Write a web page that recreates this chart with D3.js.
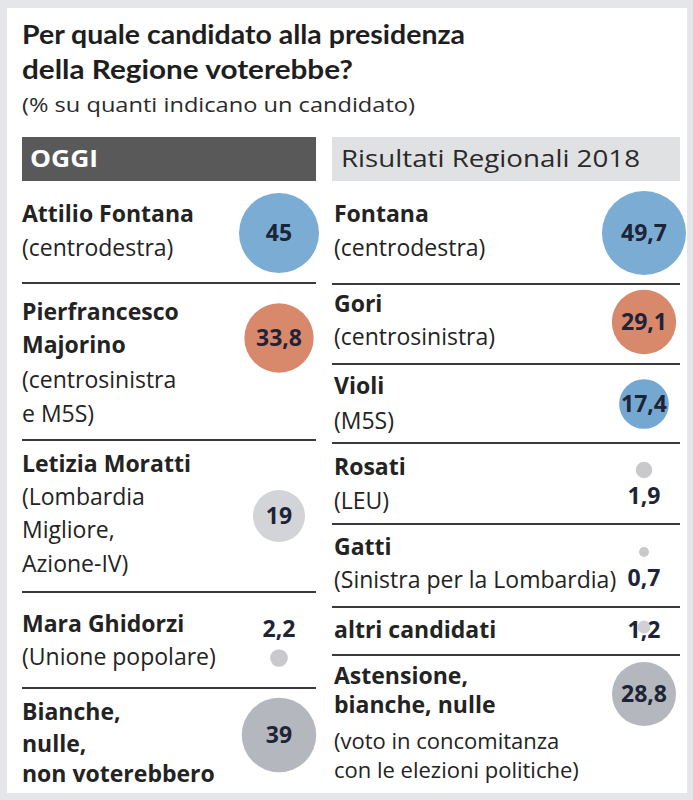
<!DOCTYPE html>
<html><head><meta charset="utf-8">
<script src="https://cdn.jsdelivr.net/npm/d3@7"></script>
<style>html,body{margin:0;padding:0;background:#fff}svg{display:block}</style>
</head><body><div id="chart"></div>
<script>
// ---- DATA ----
const titleLines = ["Per quale candidato alla presidenza", "della Regione voterebbe?"];
const subtitle = "(% su quanti indicano un candidato)";
const leftHeader = "OGGI";
const rightHeader = "Risultati Regionali 2018";

const leftNames = [["Attilio Fontana"], ["Pierfrancesco", "Majorino"], ["Letizia Moratti"], ["Mara Ghidorzi"], ["Bianche,", "nulle,", "non voterebbero"]];
const leftNotes = [["(centrodestra)"], ["(centrosinistra", "e M5S)"], ["(Lombardia", "Migliore,", "Azione-IV)"], ["(Unione popolare)"], []];
const leftValues = [45, 33.8, 19, 2.2, 39];
const leftGroups = ["centrodestra", "centrosinistra", "terzo", "minori", "astensione"];

const rightNames = [["Fontana"], ["Gori"], ["Violi"], ["Rosati"], ["Gatti"], ["altri candidati"], ["Astensione,", "bianche, nulle"]];
const rightNotes = [["(centrodestra)"], ["(centrosinistra)"], ["(M5S)"], ["(LEU)"], ["(Sinistra per la Lombardia)"], [], ["(voto in concomitanza", "con le elezioni politiche)"]];
const rightValues = [49.7, 29.1, 17.4, 1.9, 0.7, 1.2, 28.8];
const rightGroups = ["centrodestra", "centrosinistra", "m5s", "minori", "minori", "minori", "astensione"];

// ---- LAYOUT (positions, not data) ----
const leftLayout = [
  {base: [222, 256], cy: 233, label: "in"},
  {base: [320, 353, 388, 422], cy: 338, label: "in"},
  {base: [472, 505, 538, 572], cy: 516, label: "in"},
  {base: [632, 665], cy: 658, label: "above", ly: 637},
  {base: [720, 752, 782], cy: 735, label: "in"}
];
const leftSeps = [283, 440, 592, 688];
const rightLayout = [
  {base: [222, 256], cy: 233, label: "in"},
  {base: [312, 345], cy: 322, label: "in"},
  {base: [394, 429], cy: 404, label: "in"},
  {base: [475, 509], cy: 470, label: "below", ly: 504},
  {base: [555, 588], cy: 552, label: "below", ly: 586},
  {base: [638], cy: 627, label: "over", ly: 638},
  {base: [684, 713, 749, 778], cy: 694, label: "in"}
];
const rightSeps = [284, 364, 443, 524, 607, 655];

const W = 693, H = 800;
const FONT = "'Open Sans', 'Noto Sans', sans-serif";
const TFONT = "Lato, 'Open Sans', sans-serif";
const TXT = "#232323";
const VAL = "#1e2437";

const color = d3.scaleOrdinal()
  .domain(["centrodestra", "centrosinistra", "m5s", "terzo", "minori", "astensione"])
  .range(["#7badd4", "#d9896b", "#75a8d0", "#d3d4d7", "#c9c9cc", "#b4b7bd"]);
const r = d3.scaleSqrt().domain([0, 45]).range([0, 40]);

const svg = d3.select("#chart").append("svg").attr("width", W).attr("height", H);
svg.append("rect").attr("width", W).attr("height", H).attr("fill", "#e4e6e9");
svg.append("rect").attr("x", 7).attr("y", 8).attr("width", 680).attr("height", 785).attr("fill", "#fff");

// title
svg.selectAll("text.title").data(titleLines).join("text").attr("class", "title")
  .attr("x", 22).attr("y", (d, i) => 44 + i * 35)
  .attr("font-family", TFONT).attr("font-weight", 700).attr("font-size", 26)
  .attr("fill", "#1e1e1e")
  .attr("textLength", (d, i) => i === 0 ? 443 : 331).attr("lengthAdjust", "spacingAndGlyphs")
  .text(d => d);
svg.append("text").attr("x", 22).attr("y", 112)
  .attr("font-family", FONT).attr("font-size", 20).attr("fill", "#2a2a2a")
  .attr("textLength", 393).attr("lengthAdjust", "spacingAndGlyphs")
  .text(subtitle);

// headers
svg.append("rect").attr("x", 22).attr("y", 137).attr("width", 294).attr("height", 44).attr("fill", "#595959");
svg.append("text").attr("x", 30).attr("y", 167).attr("font-family", FONT).attr("font-weight", 700)
  .attr("font-size", 23).attr("fill", "#fff").attr("textLength", 68).attr("lengthAdjust", "spacingAndGlyphs").text(leftHeader);
svg.append("rect").attr("x", 332).attr("y", 137).attr("width", 348).attr("height", 44).attr("fill", "#e0e1e3");
svg.append("text").attr("x", 341).attr("y", 167).attr("font-family", FONT)
  .attr("font-size", 24).attr("fill", "#2a2a2a").attr("textLength", 299).attr("lengthAdjust", "spacingAndGlyphs").text(rightHeader);

function column(names, notes, values, groups, layout, seps, tx, cx, x1, x2) {
  const g = svg.append("g");
  g.selectAll("line.sep").data(seps).join("line").attr("class", "sep")
    .attr("x1", x1).attr("x2", x2).attr("y1", d => d).attr("y2", d => d)
    .attr("stroke", "#3a3a3a").attr("stroke-width", 2);
  values.forEach((v, i) => {
    const L = layout[i];
    const lines = names[i].map(t => ({t, b: true})).concat(notes[i].map(t => ({t, b: false})));
    g.selectAll(null).data(lines).join("text")
      .attr("x", tx).attr("y", (d, j) => L.base[j])
      .attr("font-family", FONT)
      .attr("font-size", (d, j) => (i === 6 && j >= 2) ? 22 : 23)
      .attr("font-weight", d => d.b ? 700 : 400)
      .attr("fill", TXT).text(d => d.t);
    const label = d3.format(",.1~f")(v).replace(".", ",");
    const lab = () => g.append("text").attr("x", cx)
      .attr("y", L.label === "in" ? L.cy : L.ly)
      .attr("dy", L.label === "in" ? "0.35em" : 0)
      .attr("text-anchor", "middle").attr("font-family", FONT).attr("font-weight", 700)
      .attr("font-size", 23).attr("fill", VAL).text(label);
    if (L.label === "over") lab();
    g.append("circle").attr("cx", cx).attr("cy", L.cy).attr("r", r(v)).attr("fill", color(groups[i]))
      .attr("opacity", L.label === "over" ? 0.85 : 1);
    if (L.label !== "over") lab();
  });
}
column(leftNames, leftNotes, leftValues, leftGroups, leftLayout, leftSeps, 22, 279, 22, 316);
column(rightNames, rightNotes, rightValues, rightGroups, rightLayout, rightSeps, 334, 644, 332, 680);
</script></body></html>
